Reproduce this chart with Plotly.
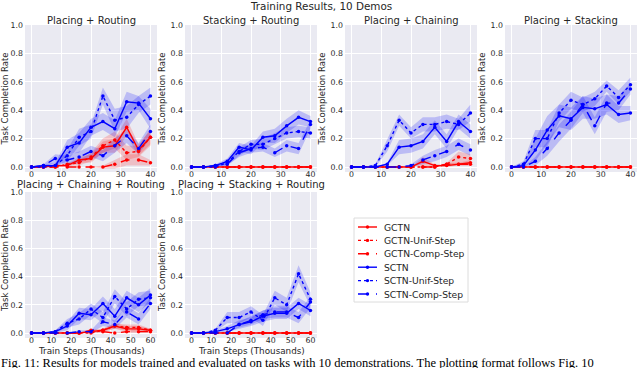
import plotly.graph_objects as go

# ---------------- data ----------------
X40 = [0, 4, 8, 12, 16, 20, 24, 28, 32, 36, 40]
X60 = [0, 6, 12, 18, 24, 30, 36, 42, 48, 54, 60]
SERIES = ["GCTN", "GCTN-Unif-Step", "GCTN-Comp-Step", "SCTN", "SCTN-Unif-Step", "SCTN-Comp-Step"]
TITLES = ["Placing + Routing", "Stacking + Routing", "Placing + Chaining", "Placing + Stacking",
          "Placing + Chaining + Routing", "Placing + Stacking + Routing"]
SUPTITLE = "Training Results, 10 Demos"
Y_LABEL = "Task Completion Rate"
X_LABEL = "Train Steps (Thousands)"
Y_TICKS = [0.0, 0.2, 0.4, 0.6, 0.8, 1.0]
X40_TICKS = [0, 10, 20, 30, 40]
X60_TICKS = [0, 10, 20, 30, 40, 50, 60]
CAPTION = ("Fig. 11: Results for models trained and evaluated on tasks with 10 demonstrations. "
           "The plotting format follows Fig. 10")

# Panel 1: Placing + Routing (means, order of SERIES)
P1_GCTN = [0, 0, 0.01, 0.01, 0.05, 0.06, 0.14, 0.15, 0.28, 0.12, 0.21]
P1_GUNI = [0, 0, 0, 0.02, 0.03, 0.07, 0.15, 0.19, 0.10, 0.11, 0.21]
P1_GCMP = [0, 0, 0, 0, 0, 0, 0, 0.02, 0.05, 0.05, 0.03]
P1_SCTN = [0, 0.01, 0.01, 0.14, 0.17, 0.28, 0.32, 0.27, 0.46, 0.45, 0.34]
P1_SUNI = [0, 0, 0.01, 0.08, 0.21, 0.25, 0.50, 0.33, 0.35, 0.44, 0.50]
P1_SCMP = [0, 0.01, 0.06, 0.05, 0.07, 0.11, 0.08, 0.15, 0.22, 0.13, 0.25]
P1_GCTN_SD = [0, 0, 0.01, 0.01, 0.02, 0.03, 0.04, 0.05, 0.06, 0.04, 0.05]
P1_GUNI_SD = [0, 0, 0, 0.01, 0.02, 0.03, 0.05, 0.06, 0.05, 0.04, 0.06]
P1_GCMP_SD = [0, 0, 0, 0, 0, 0, 0.01, 0.03, 0.04, 0.04, 0.02]
P1_SCTN_SD = [0, 0.01, 0.02, 0.05, 0.07, 0.06, 0.06, 0.06, 0.07, 0.05, 0.07]
P1_SUNI_SD = [0, 0, 0.01, 0.04, 0.06, 0.05, 0.06, 0.08, 0.08, 0.06, 0.06]
P1_SCMP_SD = [0, 0.01, 0.03, 0.03, 0.04, 0.04, 0.04, 0.05, 0.05, 0.04, 0.05]

# Panel 2: Stacking + Routing
P2_GCTN = [0, 0, 0, 0, 0, 0, 0, 0, 0, 0, 0]
P2_GUNI = [0, 0, 0, 0, 0, 0, 0, 0, 0, 0, 0]
P2_GCMP = [0, 0, 0, 0, 0, 0, 0, 0, 0, 0, 0]
P2_SCTN = [0, 0, 0.01, 0.04, 0.14, 0.12, 0.21, 0.22, 0.29, 0.35, 0.32]
P2_SUNI = [0, 0, 0, 0.03, 0.11, 0.16, 0.16, 0.20, 0.24, 0.25, 0.24]
P2_SCMP = [0, 0, 0.01, 0.02, 0.10, 0.13, 0.14, 0.10, 0.15, 0.13, 0.30]
P2_GCTN_SD = [0, 0, 0, 0, 0, 0, 0, 0, 0, 0, 0]
P2_GUNI_SD = [0, 0, 0, 0, 0, 0, 0, 0, 0, 0, 0]
P2_GCMP_SD = [0, 0, 0, 0, 0, 0, 0, 0, 0, 0, 0]
P2_SCTN_SD = [0, 0, 0.01, 0.02, 0.03, 0.03, 0.04, 0.05, 0.05, 0.05, 0.04]
P2_SUNI_SD = [0, 0, 0, 0.02, 0.03, 0.03, 0.04, 0.04, 0.04, 0.04, 0.04]
P2_SCMP_SD = [0, 0, 0.01, 0.01, 0.03, 0.03, 0.03, 0.03, 0.04, 0.04, 0.03]

# Panel 3: Placing + Chaining
P3_GCTN = [0, 0, 0, 0, 0, 0, 0.04, 0.01, 0.01, 0.02, 0.03]
P3_GUNI = [0, 0, 0, 0, 0, 0, 0, 0, 0.02, 0.07, 0.06]
P3_GCMP = [0, 0, 0, 0, 0, 0, 0, 0, 0.02, 0.02, 0.02]
P3_SCTN = [0, 0, 0, 0.02, 0.14, 0.15, 0.18, 0.28, 0.18, 0.32, 0.25]
P3_SUNI = [0, 0, 0.01, 0.15, 0.33, 0.24, 0.30, 0.30, 0.32, 0.30, 0.38]
P3_SCMP = [0, 0, 0, 0, 0, 0.01, 0.05, 0.08, 0.11, 0.16, 0.12]
P3_GCTN_SD = [0, 0, 0, 0, 0, 0, 0.03, 0.01, 0.01, 0.01, 0.02]
P3_GUNI_SD = [0, 0, 0, 0, 0, 0, 0, 0, 0.01, 0.04, 0.03]
P3_GCMP_SD = [0, 0, 0, 0, 0, 0, 0, 0, 0.01, 0.01, 0.01]
P3_SCTN_SD = [0, 0, 0, 0.01, 0.05, 0.05, 0.05, 0.05, 0.05, 0.05, 0.05]
P3_SUNI_SD = [0, 0, 0.01, 0.04, 0.04, 0.04, 0.05, 0.05, 0.05, 0.04, 0.06]
P3_SCMP_SD = [0, 0, 0, 0, 0, 0.01, 0.03, 0.04, 0.04, 0.04, 0.04]

# Panel 4: Placing + Stacking
P4_GCTN = [0, 0, 0, 0, 0, 0, 0, 0, 0, 0, 0]
P4_GUNI = [0, 0, 0, 0, 0, 0, 0, 0, 0, 0, 0]
P4_GCMP = [0, 0, 0, 0, 0, 0, 0, 0, 0, 0, 0]
P4_SCTN = [0, 0.01, 0.12, 0.26, 0.36, 0.34, 0.42, 0.41, 0.44, 0.37, 0.38]
P4_SUNI = [0, 0.02, 0.20, 0.20, 0.38, 0.47, 0.44, 0.48, 0.57, 0.49, 0.58]
P4_SCMP = [0, 0, 0.04, 0.13, 0.24, 0.33, 0.44, 0.29, 0.45, 0.45, 0.55]
P4_GCTN_SD = [0, 0, 0, 0, 0, 0, 0, 0, 0, 0, 0]
P4_GUNI_SD = [0, 0, 0, 0, 0, 0, 0, 0, 0, 0, 0]
P4_GCMP_SD = [0, 0, 0, 0, 0, 0, 0, 0, 0, 0, 0]
P4_SCTN_SD = [0, 0.01, 0.08, 0.10, 0.08, 0.08, 0.08, 0.07, 0.07, 0.06, 0.05]
P4_SUNI_SD = [0, 0.02, 0.06, 0.06, 0.06, 0.06, 0.05, 0.05, 0.04, 0.05, 0.05]
P4_SCMP_SD = [0, 0, 0.03, 0.05, 0.06, 0.06, 0.06, 0.06, 0.06, 0.05, 0.04]

# Panel 5: Placing + Chaining + Routing
P5_GCTN = [0, 0, 0, 0, 0, 0.01, 0.02, 0.05, 0.03, 0.03, 0.02]
P5_GUNI = [0, 0, 0, 0, 0, 0, 0.02, 0.05, 0.04, 0.04, 0.02]
P5_GCMP = [0, 0, 0, 0, 0, 0.02, 0.01, 0, 0.01, 0.01, 0.01]
P5_SCTN = [0, 0, 0.01, 0.05, 0.14, 0.13, 0.21, 0.12, 0.25, 0.20, 0.27]
P5_SUNI = [0, 0, 0.01, 0.07, 0.10, 0.17, 0.11, 0.26, 0.17, 0.24, 0.25]
P5_SCMP = [0, 0, 0, 0, 0.01, 0.01, 0.08, 0.06, 0.15, 0.10, 0.21]
P5_GCTN_SD = [0, 0, 0, 0, 0, 0.01, 0.01, 0.02, 0.02, 0.02, 0.01]
P5_GUNI_SD = [0, 0, 0, 0, 0, 0, 0.01, 0.02, 0.02, 0.02, 0.01]
P5_GCMP_SD = [0, 0, 0, 0, 0, 0.01, 0.01, 0, 0.01, 0.01, 0.01]
P5_SCTN_SD = [0, 0, 0.01, 0.03, 0.04, 0.04, 0.05, 0.05, 0.05, 0.05, 0.05]
P5_SUNI_SD = [0, 0, 0.01, 0.03, 0.04, 0.04, 0.04, 0.05, 0.05, 0.05, 0.05]
P5_SCMP_SD = [0, 0, 0, 0, 0.01, 0.01, 0.03, 0.03, 0.04, 0.04, 0.04]

# Panel 6: Placing + Stacking + Routing
P6_GCTN = [0, 0, 0, 0, 0, 0, 0, 0, 0, 0, 0]
P6_GUNI = [0, 0, 0, 0, 0, 0, 0, 0, 0, 0, 0]
P6_GCMP = [0, 0, 0, 0, 0, 0, 0, 0, 0, 0, 0]
P6_SCTN = [0, 0, 0.01, 0.03, 0.06, 0.08, 0.12, 0.14, 0.14, 0.21, 0.16]
P6_SUNI = [0, 0, 0.02, 0.11, 0.11, 0.15, 0.09, 0.25, 0.20, 0.42, 0.24]
P6_SCMP = [0, 0, 0, 0, 0.06, 0.09, 0.13, 0.15, 0.15, 0.11, 0.22]
P6_GCTN_SD = [0, 0, 0, 0, 0, 0, 0, 0, 0, 0, 0]
P6_GUNI_SD = [0, 0, 0, 0, 0, 0, 0, 0, 0, 0, 0]
P6_GCMP_SD = [0, 0, 0, 0, 0, 0, 0, 0, 0, 0, 0]
P6_SCTN_SD = [0, 0, 0.01, 0.02, 0.03, 0.03, 0.04, 0.04, 0.04, 0.04, 0.04]
P6_SUNI_SD = [0, 0, 0.01, 0.04, 0.04, 0.04, 0.04, 0.05, 0.05, 0.06, 0.05]
P6_SCMP_SD = [0, 0, 0, 0, 0.02, 0.03, 0.03, 0.04, 0.04, 0.04, 0.04]

PANELS = [
    (X40, [P1_GCTN, P1_GUNI, P1_GCMP, P1_SCTN, P1_SUNI, P1_SCMP],
     [P1_GCTN_SD, P1_GUNI_SD, P1_GCMP_SD, P1_SCTN_SD, P1_SUNI_SD, P1_SCMP_SD]),
    (X40, [P2_GCTN, P2_GUNI, P2_GCMP, P2_SCTN, P2_SUNI, P2_SCMP],
     [P2_GCTN_SD, P2_GUNI_SD, P2_GCMP_SD, P2_SCTN_SD, P2_SUNI_SD, P2_SCMP_SD]),
    (X40, [P3_GCTN, P3_GUNI, P3_GCMP, P3_SCTN, P3_SUNI, P3_SCMP],
     [P3_GCTN_SD, P3_GUNI_SD, P3_GCMP_SD, P3_SCTN_SD, P3_SUNI_SD, P3_SCMP_SD]),
    (X40, [P4_GCTN, P4_GUNI, P4_GCMP, P4_SCTN, P4_SUNI, P4_SCMP],
     [P4_GCTN_SD, P4_GUNI_SD, P4_GCMP_SD, P4_SCTN_SD, P4_SUNI_SD, P4_SCMP_SD]),
    (X60, [P5_GCTN, P5_GUNI, P5_GCMP, P5_SCTN, P5_SUNI, P5_SCMP],
     [P5_GCTN_SD, P5_GUNI_SD, P5_GCMP_SD, P5_SCTN_SD, P5_SUNI_SD, P5_SCMP_SD]),
    (X60, [P6_GCTN, P6_GUNI, P6_GCMP, P6_SCTN, P6_SUNI, P6_SCMP],
     [P6_GCTN_SD, P6_GUNI_SD, P6_GCMP_SD, P6_SCTN_SD, P6_SUNI_SD, P6_SCMP_SD]),
]

# ---------------- styling ----------------
W, H = 640, 368
FONT = "DejaVu Sans"
TXT = "#262626"
BG = "#eaeaf2"
LINE_COL = ["#ff0000", "#ff0000", "#ff0000", "#0000ff", "#0000ff", "#0000ff"]
FILL_COL = ["rgba(255,0,0,0.18)"] * 3 + ["rgba(0,0,255,0.2)"] * 3
DASH = ["solid", "dot", "dash", "solid", "dot", "dash"]

# panel boxes in pixels (left, right, top, bottom)
COL_L = [25, 185, 345, 505]
PW = 132
ROW_T = [25, 192]
ROW_B = [172, 338]
TITLE_Y = [20, 185]
XLABEL_Y = 351


def px2x(p):
    return p / W


def px2y(p):
    return 1 - p / H


fig = go.Figure()
layout = {}
annotations = []
shapes = []

for i, (xs, means, sds) in enumerate(PANELS):
    row = 0 if i < 4 else 1
    col = i if i < 4 else i - 4
    n = "" if i == 0 else str(i + 1)
    xa, ya = "x" + n, "y" + n
    l, r = COL_L[col], COL_L[col] + PW
    t, b = ROW_T[row], ROW_B[row]
    xmax = xs[-1]
    ticks = X40_TICKS if xmax == 40 else X60_TICKS
    pad = xmax * 0.055
    layout["xaxis" + n] = dict(
        domain=[px2x(l), px2x(r)], anchor=ya, range=[-pad, xmax + pad],
        tickvals=ticks, ticks="", showline=False, zeroline=False, automargin=False,
        gridcolor="white", gridwidth=1, tickfont=dict(family=FONT, size=7.8, color=TXT),
        ticklabelstandoff=-4,
    )
    layout["yaxis" + n] = dict(
        domain=[px2y(b), px2y(t)], anchor=xa, range=[-0.035, 1.0],
        tickvals=Y_TICKS, ticktext=["%.1f" % v for v in Y_TICKS], ticks="",
        showline=False, zeroline=False, gridcolor="white", gridwidth=1, automargin=False,
        tickfont=dict(family=FONT, size=7.8, color=TXT), ticklabelstandoff=1,
        title=dict(text=Y_LABEL, font=dict(family=FONT, size=8.5, color=TXT), standoff=3),
    )
    # bands
    for k in range(6):
        up = [m + s for m, s in zip(means[k], sds[k])]
        lo = [m - s for m, s in zip(means[k], sds[k])]
        fig.add_trace(go.Scatter(
            x=list(xs) + list(xs)[::-1], y=up + lo[::-1], fill="toself",
            fillcolor=FILL_COL[k], line=dict(width=0), mode="lines",
            hoverinfo="skip", showlegend=False, xaxis=xa, yaxis=ya))
    # lines
    for k in range(6):
        fig.add_trace(go.Scatter(
            x=xs, y=means[k], mode="lines+markers", name=SERIES[k],
            line=dict(color=LINE_COL[k], width=1.4, dash=DASH[k]),
            marker=dict(color=LINE_COL[k], size=3.5),
            showlegend=False, xaxis=xa, yaxis=ya))
    annotations.append(dict(
        text=TITLES[i], x=px2x((l + r) / 2), y=px2y(TITLE_Y[row]), xref="paper", yref="paper",
        xanchor="center", yanchor="middle", showarrow=False, borderpad=0,
        font=dict(family=FONT, size=10, color=TXT)))
    if row == 1:
        annotations.append(dict(
            text=X_LABEL, x=px2x((l + r) / 2), y=px2y(XLABEL_Y), xref="paper", yref="paper",
            xanchor="center", yanchor="middle", showarrow=False, borderpad=0,
            font=dict(family=FONT, size=8.8, color=TXT)))

annotations.append(dict(
    text=SUPTITLE, x=px2x(321), y=px2y(6), xref="paper", yref="paper",
    xanchor="center", yanchor="middle", showarrow=False, borderpad=0,
    font=dict(family=FONT, size=10.4, color=TXT)))
annotations.append(dict(
    text=CAPTION, x=0, y=px2y(363), xref="paper", yref="paper",
    xanchor="left", yanchor="middle", showarrow=False, borderpad=0,
    font=dict(family="Liberation Serif", size=12.5, color="black")))

# ---------------- legend (drawn compactly, like matplotlib) ----------------
LEG_L, LEG_R, LEG_T, LEG_B = 354, 468, 218, 302
LEG_ROW0, LEG_DY = 227, 13.4
shapes.append(dict(type="rect", xref="paper", yref="paper",
                   x0=px2x(LEG_L), x1=px2x(LEG_R), y0=px2y(LEG_B), y1=px2y(LEG_T),
                   line=dict(color="#dcdcdc", width=1), fillcolor="white", layer="above"))
for k in range(6):
    yy = LEG_ROW0 + k * LEG_DY
    shapes.append(dict(type="line", xref="paper", yref="paper",
                       x0=px2x(358), x1=px2x(377), y0=px2y(yy), y1=px2y(yy),
                       line=dict(color=LINE_COL[k], width=1.4, dash=DASH[k]), layer="above"))
    shapes.append(dict(type="circle", xref="paper", yref="paper",
                       x0=px2x(365.8), x1=px2x(369.2), y0=px2y(yy + 1.7), y1=px2y(yy - 1.7),
                       line=dict(width=0), fillcolor=LINE_COL[k], layer="above"))
    annotations.append(dict(
        text=SERIES[k], x=px2x(383), y=px2y(yy), xref="paper", yref="paper",
        xanchor="left", yanchor="middle", showarrow=False, borderpad=0,
        font=dict(family=FONT, size=9.2, color=TXT)))

fig.update_layout(
    width=W, height=H, margin=dict(l=0, r=0, t=0, b=0),
    paper_bgcolor="white", plot_bgcolor=BG,
    annotations=annotations, shapes=shapes,
    showlegend=False,
    **layout,
)

fig.write_html("out.html", config={"displayModeBar": False},
               post_script="document.body.style.margin='0px';"
                           "document.body.style.overflow='hidden';")
